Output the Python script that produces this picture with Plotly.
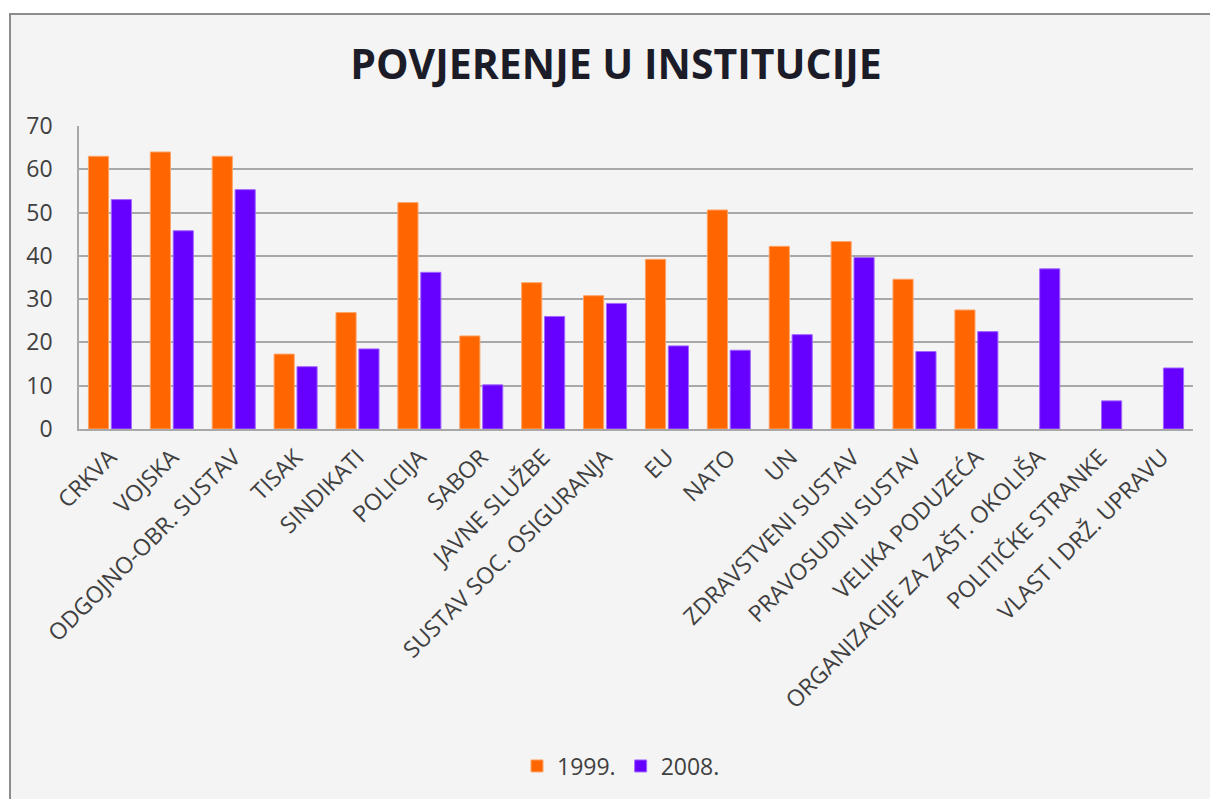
import plotly.graph_objects as go

categories = [
    "CRKVA", "VOJSKA", "ODGOJNO-OBR. SUSTAV", "TISAK", "SINDIKATI", "POLICIJA",
    "SABOR", "JAVNE SLUŽBE", "SUSTAV SOC. OSIGURANJA", "EU", "NATO", "UN",
    "ZDRAVSTVENI SUSTAV", "PRAVOSUDNI SUSTAV", "VELIKA PODUZEĆA",
    "ORGANIZACIJE ZA ZAŠT. OKOLIŠA", "POLITIČKE STRANKE", "VLAST I DRŽ. UPRAVU",
]
values_1999 = [63, 64, 63, 17.3, 26.9, 52.3, 21.5, 33.8, 30.8, 39.2, 50.6, 42.2,
               43.3, 34.6, 27.5, None, None, None]
values_2008 = [53, 45.8, 55.3, 14.4, 18.5, 36.2, 10.2, 26, 29, 19.2, 18.2, 21.8,
               39.6, 17.9, 22.5, 37, 6.5, 14.1]
series_names = ["1999.", "2008."]
y_ticks = [0, 10, 20, 30, 40, 50, 60, 70]

FONT = "Open Sans"
TXT = "#404040"
GRID = "#a8a8a8"

fig = go.Figure()
fig.add_trace(go.Bar(
    x=categories, y=values_1999, name=series_names[0],
    marker=dict(color="#ff6600", line=dict(color="#ffa366", width=1)),
))
fig.add_trace(go.Bar(
    x=categories, y=values_2008, name=series_names[1],
    marker=dict(color="#6600ff", line=dict(color="#a366ff", width=1)),
))

fig.update_layout(
    width=1210, height=799,
    margin=dict(l=79, r=17, t=126, b=370, autoexpand=False),
    paper_bgcolor="white",
    plot_bgcolor="rgba(0,0,0,0)",
    barmode="group", bargap=0.26, bargroupgap=0.12,
    font=dict(family=FONT, color=TXT, size=22),
    title=dict(
        text="<b>POVJERENJE U INSTITUCIJE</b>",
        font=dict(family=FONT, size=41, color="#1c1c28"),
        x=616 / 1210, xref="container", xanchor="center",
        y=1 - 65 / 799, yref="container", yanchor="middle",
    ),
    legend=dict(
        orientation="h",
        x=621 / 1210, xref="container", xanchor="center",
        y=1 - 766 / 799, yref="container", yanchor="middle",
        font=dict(family=FONT, size=23, color=TXT),
        itemwidth=30,
        bgcolor="rgba(0,0,0,0)",
    ),
    shapes=[dict(
        type="rect", xref="paper", yref="paper", layer="below",
        x0=(10 - 79) / 1114, x1=1.3,
        y0=(429 - 14) / 303, y1=-2.0,
        fillcolor="#f4f4f4", line=dict(color="#8c8c8c", width=2),
    )],
)

fig.update_yaxes(
    range=[0, 70], tickvals=y_ticks, showgrid=True, gridcolor=GRID, gridwidth=1.5,
    showline=True, linecolor=GRID, linewidth=1.5, zeroline=False,
    ticks="outside", ticklen=20, tickcolor="rgba(0,0,0,0)",
    tickfont=dict(family=FONT, size=23, color=TXT),
)
fig.update_xaxes(
    tickangle=-45, showline=True, linecolor=GRID, linewidth=1.5,
    showgrid=False, ticks="outside", ticklen=4, tickcolor="rgba(0,0,0,0)",
    tickfont=dict(family=FONT, size=23, color=TXT),
)

fig.write_html("out.html", post_script="document.body.style.margin='0';",
               config={"displayModeBar": False})
